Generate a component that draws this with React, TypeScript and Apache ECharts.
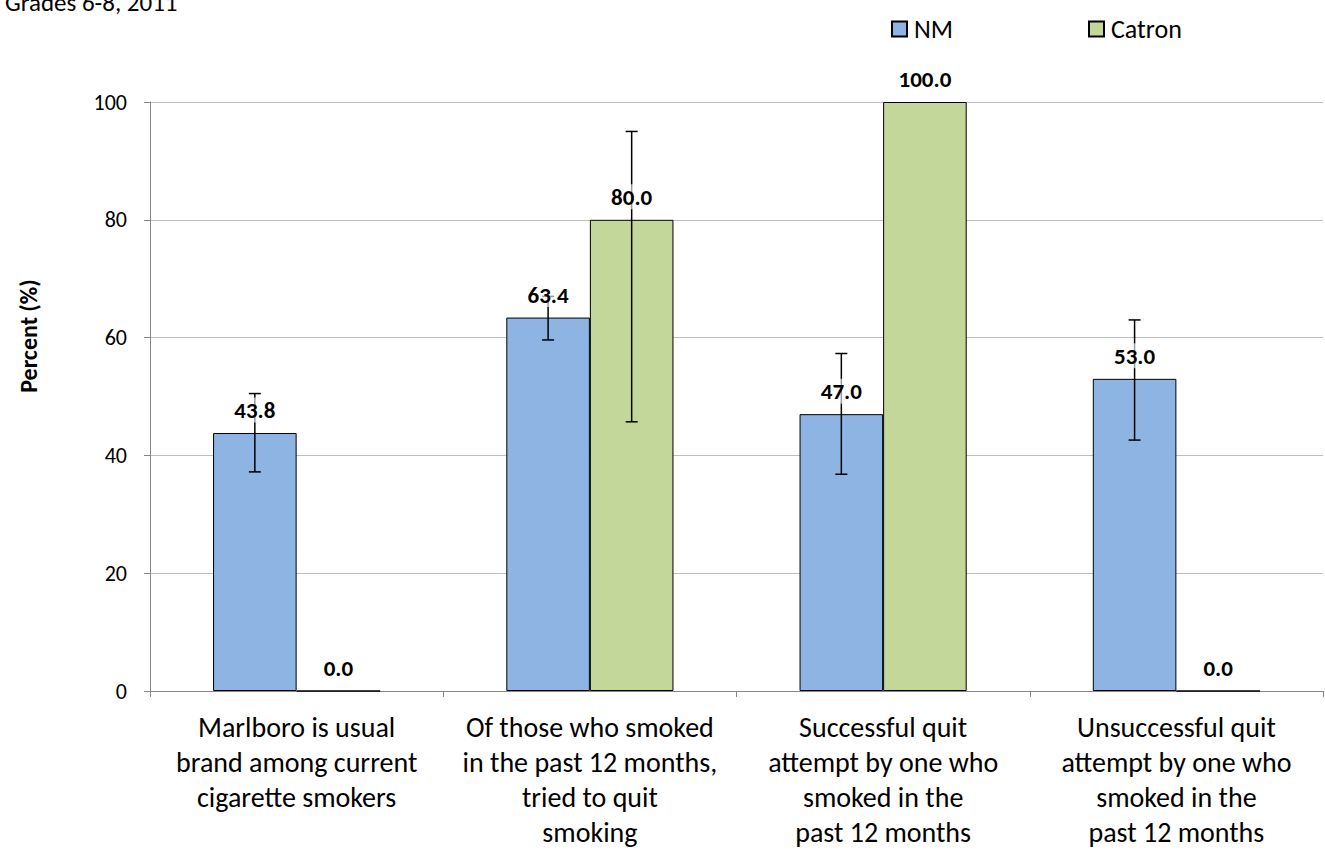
import React, { useEffect, useRef } from "react";
import * as echarts from "echarts";

const categories = [
  "Marlboro is usual\nbrand among current\ncigarette smokers",
  "Of those who smoked\nin the past 12 months,\ntried to quit\nsmoking",
  "Successful quit\nattempt by one who\nsmoked in the\npast 12 months",
  "Unsuccessful quit\nattempt by one who\nsmoked in the\npast 12 months",
];
const seriesNames = ["NM", "Catron"];
const nmValues = [43.8, 63.4, 47.0, 53.0];
const catronValues = [0.0, 80.0, 100.0, 0.0];
const nmLow = [37.2, 59.6, 36.8, 42.6];
const nmHigh = [50.5, 67.0, 57.3, 63.0];
const catronLow = [null, 45.7, null, null];
const catronHigh = [null, 95.0, null, null];
const yTicks = { min: 0, max: 100, interval: 20 };

const FONT = "Carlito, Lato, 'Open Sans', sans-serif";
const CAT_GAP = 0.43;

export default function App() {
  const ref = useRef<HTMLDivElement>(null);
  useEffect(() => {
    document.body.style.margin = "0";
    const chart = echarts.init(ref.current!, undefined, { renderer: "svg" });

    const errRows: any[] = [];
    const addRows = (vals: number[], lo: any[], hi: any[], side: number) => {
      vals.forEach((v, i) => {
        const has = lo[i] != null && hi[i] != null ? 1 : 0;
        errRows.push([i, v, has ? lo[i] : v, has ? hi[i] : v, side, has]);
      });
    };
    addRows(nmValues, nmLow, nmHigh, -1);
    addRows(catronValues, catronLow, catronHigh, 1);

    const legendBase = {
      top: 11,
      itemWidth: 15,
      itemHeight: 15,
      itemGap: 10,
      icon: "rect",
      textStyle: { fontSize: 26, color: "#000", fontFamily: FONT, padding: [0, 0, 0, 2] },
      selectedMode: false,
    };

    chart.setOption({
      animation: false,
      textStyle: { fontFamily: FONT },
      grid: { left: 150, right: 2, top: 102, bottom: 163 },
      legend: [
        { ...legendBase, data: [seriesNames[0]], left: 886 },
        { ...legendBase, data: [seriesNames[1]], left: 1083 },
      ],
      xAxis: {
        type: "category",
        data: categories,
        axisLine: { lineStyle: { color: "#868686", width: 1 } },
        axisTick: { show: true, length: 6, lineStyle: { color: "#868686" } },
        axisLabel: {
          interval: 0,
          fontSize: 28,
          lineHeight: 35,
          color: "#000",
          margin: 19,
          fontFamily: FONT,
        },
      },
      yAxis: {
        type: "value",
        min: yTicks.min,
        max: yTicks.max,
        interval: yTicks.interval,
        axisLine: { show: true, lineStyle: { color: "#868686" } },
        axisTick: { show: true, length: 6, lineStyle: { color: "#868686" } },
        axisLabel: { fontSize: 22, color: "#000", margin: 23, fontFamily: FONT },
        splitLine: { lineStyle: { color: "#BFBFBF", width: 1 } },
      },
      graphic: [
        {
          type: "text",
          x: 5,
          y: 2,
          style: {
            text: "Grades 6-8, 2011",
            fontSize: 25,
            fill: "#000",
            fontFamily: FONT,
            verticalAlign: "middle",
          },
        },
        {
          type: "text",
          x: 28,
          y: 336,
          rotation: Math.PI / 2,
          style: {
            text: "Percent (%)",
            fontSize: 24,
            fontWeight: "bold",
            fill: "#000",
            fontFamily: FONT,
            align: "center",
            verticalAlign: "middle",
          },
        },
      ],
      series: [
        {
          name: seriesNames[0],
          type: "bar",
          data: nmValues,
          barGap: "0%",
          barCategoryGap: CAT_GAP * 100 + "%",
          itemStyle: { color: "#8EB4E3", borderColor: "#000", borderWidth: 1 },
          z: 2,
        },
        {
          name: seriesNames[1],
          type: "bar",
          data: catronValues,
          barGap: "0%",
          barCategoryGap: CAT_GAP * 100 + "%",
          itemStyle: { color: "#C4D79B", borderColor: "#000", borderWidth: 1 },
          z: 2,
        },
        {
          type: "custom",
          z: 5,
          data: errRows,
          encode: { x: 0, y: [1, 2, 3] },
          renderItem: (params: any, api: any) => {
            const ci = api.value(0);
            const v = api.value(1);
            const lo = api.value(2);
            const hi = api.value(3);
            const side = api.value(4);
            const has = api.value(5);
            const bandW = api.size([1, 0])[0];
            const barW = (bandW * (1 - CAT_GAP)) / 2;
            const cx = api.coord([ci, v])[0] + (side * barW) / 2;
            const yv = api.coord([ci, v])[1];
            const children: any[] = [];
            if (has) {
              const yl = api.coord([ci, lo])[1];
              const yh = api.coord([ci, hi])[1];
              const st = { stroke: "#000", lineWidth: 1.5 };
              children.push(
                { type: "line", shape: { x1: cx, y1: yl, x2: cx, y2: yh }, style: st },
                { type: "line", shape: { x1: cx - 6, y1: yl, x2: cx + 6, y2: yl }, style: st },
                { type: "line", shape: { x1: cx - 6, y1: yh, x2: cx + 6, y2: yh }, style: st }
              );
            }
            children.push({
              type: "text",
              x: cx,
              y: yv - 23,
              style: {
                text: v.toFixed(1),
                fontSize: 23,
                fontWeight: "bold",
                fill: "#000",
                fontFamily: FONT,
                align: "center",
                verticalAlign: "middle",
                backgroundColor: "rgba(255,255,255,0.6)",
                padding: [1, 0],
              },
            });
            return { type: "group", children };
          },
        },
      ],
    });
    return () => chart.dispose();
  }, []);
  return <div ref={ref} style={{ width: 1325, height: 854 }} />;
}
